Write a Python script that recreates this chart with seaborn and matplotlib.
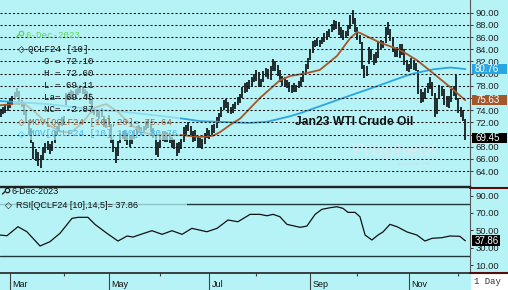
import numpy as np
import pandas as pd
import matplotlib
matplotlib.use("Agg")
import matplotlib.pyplot as plt
import seaborn as sns
from matplotlib.patches import Rectangle
from matplotlib.lines import Line2D

# ---------------- data ----------------
start_date = "2023-02-23"
end_date = "2023-12-06"
holidays = ["2023-04-07", "2023-05-29", "2023-06-19", "2023-07-04", "2023-09-04", "2023-11-23"]

highs = [74.2, 74.6, 74.9, 75.4, 75.8,
         76.3, 77.0, 77.6, 77.2, 75.6,
         75.4, 73.8, 72.4, 71.0,
         68.8, 67.6, 67.2, 66.6, 67.8, 68.6, 68.9, 68.5,
         69.0, 70.6, 71.4, 72.0, 72.8, 73.0,
         76.8, 77.0, 77.3,
         77.1, 77.4, 77.8, 78.2, 78.0, 77.5, 77.2, 76.8, 75.6, 74.4,
         74.2, 73.9, 74.4, 73.0, 72.6, 73.2,
         71.8, 69.2, 68.0, 69.0,
         70.2, 70.6, 70.8, 70.2, 69.8, 70.0, 70.8, 71.4, 71.6, 71.2,
         71.4, 72.2, 72.4, 71.8, 71.0, 69.8, 68.8, 69.8, 70.6, 70.6,
         70.4, 70.2, 69.6, 69.2, 68.6, 68.8, 69.2, 71.2, 71.6, 72.0,
         71.4, 70.6, 70.8, 69.8, 69.4, 69.2, 70.2, 71.0, 70.8, 71.6,
         71.8, 72.8, 73.6, 74.6, 75.6, 75.8, 75.4, 74.6, 75.0, 75.4,
         76.2, 76.6, 77.8, 78.4, 78.6, 79.0, 79.4, 80.0, 80.6, 80.2,
         79.2, 80.4, 81.0, 80.8, 81.2, 82.4, 82.0, 81.4, 80.6, 79.6,
         79.4, 79.0, 78.6, 78.2, 78.4, 78.2, 78.8, 79.4, 80.4, 81.6,
         82.6, 84.0, 85.4, 85.6, 85.8, 85.6, 86.0, 86.6, 87.0, 87.4,
         88.2, 88.8, 88.6, 88.4, 87.6, 87.2, 87.0, 88.0, 89.6, 90.4,
         89.2, 87.6, 86.4, 85.2, 81.4, 81.2, 84.4, 84.0, 83.2, 83.6,
         85.2, 85.6, 85.4, 87.6, 88.5, 87.4, 86.0, 84.2, 84.4, 84.8,
         84.8, 84.0, 82.2, 81.6, 82.6, 82.2, 81.8, 80.6, 77.4, 77.0,
         77.6, 78.4, 79.4, 78.6, 76.8, 76.0, 78.2, 78.0, 77.4, 76.4,
         76.4, 77.4, 78.0, 79.8, 76.0, 74.6, 74.0, 72.6]

lows = [72.9, 73.3, 73.6, 73.9, 74.3,
        74.9, 75.6, 76.2, 74.8, 74.5,
        73.2, 72.0, 70.0, 68.6,
        66.0, 65.6, 64.8, 64.5, 65.8, 66.9, 67.5, 66.8,
        67.3, 68.6, 70.0, 70.8, 71.4, 71.8,
        74.8, 75.6, 75.9,
        75.8, 76.0, 76.5, 76.8, 76.6, 76.3, 75.9, 75.0, 73.6, 73.2,
        72.8, 72.6, 72.8, 71.2, 71.0, 71.5,
        68.6, 67.2, 65.3, 66.5,
        68.6, 69.2, 69.0, 68.3, 68.0, 68.4, 69.2, 70.0, 70.2, 70.0,
        70.2, 70.8, 71.0, 70.4, 69.4, 66.6, 66.3, 68.0, 69.0, 68.8,
        68.8, 68.6, 67.9, 67.6, 66.4, 67.0, 67.6, 68.8, 70.0, 70.6,
        69.8, 68.8, 69.0, 67.8, 67.8, 67.6, 68.4, 69.4, 69.2, 69.8,
        70.2, 71.0, 72.2, 72.8, 74.0, 74.4, 73.6, 73.4, 73.6, 74.2,
        74.8, 75.2, 76.0, 76.8, 77.0, 77.4, 77.8, 78.6, 78.8, 77.8,
        77.8, 78.6, 79.4, 79.2, 79.0, 80.4, 80.4, 79.6, 78.6, 78.0,
        78.0, 77.6, 77.0, 76.8, 77.0, 77.0, 77.6, 78.0, 78.6, 80.0,
        80.8, 82.2, 83.4, 84.4, 84.6, 84.4, 84.8, 85.2, 85.6, 86.0,
        86.8, 87.2, 87.4, 86.4, 85.8, 85.6, 85.8, 86.2, 87.4, 88.2,
        86.8, 85.6, 84.8, 80.8, 79.3, 79.6, 81.6, 82.2, 81.4, 81.8,
        82.6, 84.0, 84.2, 85.0, 86.4, 85.4, 83.6, 82.7, 82.8, 82.6,
        83.0, 81.4, 80.4, 80.2, 80.8, 80.6, 80.4, 76.6, 75.2, 75.4,
        75.8, 76.8, 77.4, 76.4, 72.8, 73.4, 75.8, 76.4, 74.8, 74.6,
        74.4, 75.4, 76.4, 75.6, 73.6, 72.8, 72.2, 69.11]

# 20-day moving average (trading-day position, value)
ma20_pos = [-0.3, 5.5, 10, 15, 20, 25, 30, 35, 40, 45, 50, 55, 60, 65, 70, 77.3, 85,
            90.5, 93.5, 99, 102, 106, 110.5, 119, 123.3, 130.5, 136, 143.3, 148.9,
            151.8, 153, 161.6, 170.2, 177.4, 184.2, 191.5, 198]
ma20_val = [74.8, 75.0, 75.1, 73.6, 71.7, 70.5, 70.3, 72.0, 74.4, 75.0, 73.7, 71.8, 70.4,
            70.0, 69.9, 69.9, 69.6, 69.8, 70.4, 71.9, 72.6, 74.2, 76.0, 78.9, 79.6, 80.1,
            80.6, 82.9, 85.8, 86.8, 86.7, 85.1, 83.9, 82.2, 80.1, 77.8, 75.63]
# 100-day moving average
ma100_pos = [-0.3, 20, 42, 51, 76, 85, 106, 113.5, 123.3, 127.6, 148.9, 161.6, 170.2,
             175.7, 184.2, 191.5, 198]
ma100_val = [75.5, 75.0, 74.0, 73.8, 72.7, 72.2, 71.9, 72.1, 73.0, 73.5, 76.4, 78.1, 79.3,
             80.0, 80.7, 81.0, 80.76]
# RSI (14,5)
rsi_pos = [-0.3, 2.7, 7.4, 11.2, 16.8, 21.0, 25.3, 30.4, 33.0, 37.2, 40.2, 45.3, 50.0, 53.9,
           56.4, 60.2, 64.5, 68.8, 73.0, 77.3, 81.5, 87.9, 92.2, 96.9, 101.1, 106.3, 110.5,
           113.5, 116.1, 119.0, 122.0, 127.6, 130.5, 134.0, 136.9, 140.3, 143.3, 145.9,
           148.0, 151.0, 153.1, 155.3, 158.2, 160.8, 162.9, 165.9, 168.9, 173.2, 177.4,
           180.8, 183.8, 188.1, 191.5, 195.7, 198.0]
rsi_val = [44.5, 43.7, 54.1, 48.3, 31.9, 36.8, 46.5, 63.7, 64.9, 64.9, 56.8, 46.5, 37.6, 43.4,
           42.2, 45.7, 49.5, 45.3, 49.5, 45.3, 52.2, 48.3, 52.2, 61.8, 59.8, 68.3, 68.3,
           66.7, 68.3, 65.6, 56.8, 53.4, 54.8, 68.3, 74.1, 75.9, 77.1, 75.2, 70.6, 70.6,
           65.6, 44.5, 38.8, 44.5, 48.0, 56.8, 54.1, 48.0, 44.5, 37.6, 40.7, 41.5, 43.4,
           43.0, 37.86]

price_ticks = [90, 88, 86, 84, 82, 80, 78, 76, 74, 72, 70, 68, 66, 64]
rsi_ticks = [90, 70, 50, 30, 10]
rsi_levels = [80, 20]
major_months = [3, 5, 7, 9, 11]
minor_months = [4, 6, 8, 10, 12]
month_names = {3: "Mar", 5: "May", 7: "Jul", 9: "Sep", 11: "Nov"}

legend_date = "6-Dec-2023"
symbol = "QCLF24 [10]"
ohlc_labels = ["O ", "H ", "L ", "La", "NC"]
ohlc_values = ["72.10", "72.60", "69.11", "69.45", "-2.87"]
last_price = 69.45
ma20_last, ma20_legend = 75.63, 75.64
ma100_last = 80.76
rsi_last = 37.86
title = "Jan23 WTI Crude Oil"

# ---------------- style ----------------
sns.set_theme(style="white")
plt.rcParams["font.family"] = ["Liberation Sans", "DejaVu Sans"]
BG = "#b6f3f7"
BROWN = "#a3582b"
BLUE = "#2aa6e0"
mono = ["Liberation Mono", "DejaVu Sans Mono"]
sans = ["Liberation Sans", "DejaVu Sans"]

W, H = 508, 290
def fx(x):
    return x / W
def fy(y):
    return 1 - y / H

days = pd.bdate_range(start_date, end_date, freq="C", holidays=holidays)
idx = np.arange(len(days))

fig = plt.figure(figsize=(W / 100, H / 100), dpi=100, facecolor=BG)
ax = fig.add_axes([0, fy(186), 470 / W, 186 / H], facecolor=BG)
rax = fig.add_axes([0, fy(273), 470 / W, 86 / H], facecolor=BG)

XL = (-0.26, 200.0)

# ---------------- main price panel ----------------
ax.vlines(idx, lows, highs, color="black", linewidth=1.15, zorder=1)
sns.lineplot(x=ma100_pos, y=ma100_val, ax=ax, color=BLUE, linewidth=1.3,
             estimator=None, sort=False, zorder=1.6)
sns.lineplot(x=ma20_pos, y=ma20_val, ax=ax, color=BROWN, linewidth=1.3,
             estimator=None, sort=False, zorder=1.7)
for t in price_ticks:
    ax.axhline(t, color="#111111", linewidth=0.75, linestyle=(0, (2, 2)), zorder=2.5)

# translucent legend box
ax.add_patch(Rectangle((fx(13), fy(140)), (180 - 13) / W, (140 - 28) / H,
                       transform=fig.transFigure, facecolor=BG, alpha=0.7,
                       edgecolor="none", zorder=2.2))

box_values = [ma100_last, ma20_last, last_price]
ax.set_xlim(*XL)
ax.set_ylim(61.55, 92.09)
ax.set_yticks(price_ticks)
ax.set_yticklabels(["" if min(abs(t - v) for v in box_values) < 0.7 else f"{t:.2f}"
                    for t in price_ticks])
ax.yaxis.tick_right()
ax.tick_params(axis="y", direction="out", length=2.5, width=0.7, pad=1.5,
               labelsize=6.8, colors="#333333", labelcolor="#222222")
ax.set_xticks([])
for s in ["top", "left"]:
    ax.spines[s].set_visible(False)
ax.spines["right"].set_color("#555555")
ax.spines["right"].set_linewidth(0.8)
ax.spines["bottom"].set_color("#222222")
ax.spines["bottom"].set_linewidth(1.0)
ax.set_xlabel("")
ax.set_ylabel("")

# watermark + title
ax.text(fx(352), fy(151), "ProphetX", transform=fig.transFigure, fontsize=14,
        fontweight="bold", color="#d3ebf0", va="center", ha="left", zorder=0.5)
ax.text(fx(398), fy(163.5), "powered by DTN", transform=fig.transFigure, fontsize=3.2,
        color="#c2dde2", va="center", ha="left", zorder=0.5)
fig.text(fx(295), fy(122), title, fontsize=8.7, fontweight="bold", color="#111111",
         va="center", ha="left", family=sans)

# value boxes on price axis
def value_box(axis, val, txt, color, hdata, x1=507):
    tr = axis.get_yaxis_transform()
    axis.add_patch(Rectangle((1.0 + 1.5 / 470, val - hdata / 2), (x1 - 471.5) / 470, hdata,
                             transform=tr, facecolor=color, edgecolor="none",
                             clip_on=False, zorder=10))
    axis.text(1.0 + 5 / 470, val, txt, transform=tr, color="white", fontsize=7,
              va="center", ha="left", clip_on=False, zorder=11, family=sans)

value_box(ax, ma100_last, f"{ma100_last:.2f}", BLUE, 10 / 6.09)
value_box(ax, ma20_last, f"{ma20_last:.2f}", BROWN, 10 / 6.09)
value_box(ax, last_price, f"{last_price:.2f}", "black", 10 / 6.09)

# main legend text
def ftext(x, y, s, **kw):
    fig.text(fx(x), fy(y), s, va="center", ha="left", **kw)

def magnifier(x, y, color):
    fig.add_artist(Line2D([fx(x + 1.5)], [fy(y - 1.5)], marker="o", markersize=3.2,
                          markerfacecolor="none", markeredgecolor=color,
                          markeredgewidth=0.9, linestyle="none"))
    fig.add_artist(Line2D([fx(x - 0.3), fx(x - 2.5)], [fy(y + 0.3), fy(y + 2.5)],
                          color=color, linewidth=1.0))

magnifier(19, 34.5, "#5fd35f")
ftext(25, 35, legend_date, color="#5fd35f", family=mono, fontsize=6.6)
ftext(17.5, 49.5, "\u25c7", color="black", family=["DejaVu Sans"], fontsize=6.5)
ftext(28.5, 49.3, symbol, color="#111111", family=mono, fontsize=6.6)
for k, (lab, v) in enumerate(zip(ohlc_labels, ohlc_values)):
    ftext(44, 61 + 12.1 * k, f"{lab}= {v}", color="#111111", family=mono, fontsize=6.6)
ftext(18, 122.3, "\u25c7", color=BROWN, family=["DejaVu Sans"], fontsize=6.5)
ftext(29, 122.2, f"MOV[QCLF24 [10],20]= {ma20_legend:.2f}", color="#a8683e",
      family=mono, fontsize=6.6)
ftext(18, 134.2, "\u25c7", color="#40b4ea", family=["DejaVu Sans"], fontsize=6.5)
ftext(29, 134.0, f"MOV[QCLF24 [10],100]= {ma100_last:.2f}", color="#40b4ea",
      family=mono, fontsize=6.6)

# ---------------- RSI panel ----------------
for lv in rsi_levels:
    rax.axhline(lv, color="#1e3a3a", linewidth=1.0, zorder=1)
rax.add_patch(Rectangle((0, fy(211)), 187 / W, (211 - 187.5) / H,
                        transform=fig.transFigure, facecolor=BG, alpha=0.75,
                        edgecolor="none", zorder=2))
sns.lineplot(x=rsi_pos, y=rsi_val, ax=rax, color="#111111", linewidth=0.9,
             estimator=None, sort=False, zorder=3)
rax.set_xlim(*XL)
rax.set_ylim(0.8, 99.8)
rax.set_yticks(rsi_ticks)
rax.set_yticklabels([f"{t:.2f}" for t in rsi_ticks])
rax.yaxis.tick_right()
rax.tick_params(axis="y", direction="out", length=2.5, width=0.7, pad=1.5,
                labelsize=6.8, colors="#333333", labelcolor="#222222")
rax.spines["left"].set_visible(False)
rax.spines["top"].set_color("#222222")
rax.spines["top"].set_linewidth(1.0)
rax.spines["right"].set_color("#555555")
rax.spines["right"].set_linewidth(0.8)
rax.spines["bottom"].set_color("#222222")
rax.spines["bottom"].set_linewidth(1.2)
rax.set_xlabel("")
rax.set_ylabel("")
value_box(rax, rsi_last, f"{rsi_last:.2f}", "black", 11 / 0.869, x1=500)

magnifier(5, 191.5, "#222222")
ftext(12, 192, legend_date, color="#111111", family=sans, fontsize=6.5)
ftext(4.5, 205.3, "\u25c7", color="#111111", family=["DejaVu Sans"], fontsize=6.5)
ftext(15.5, 205, f"RSI[QCLF24 [10],14,5]= {rsi_last:.2f}", color="#111111",
      family=sans, fontsize=6.5)

# month ticks
first_idx = {}
for i, d in enumerate(days):
    if d.month not in first_idx:
        first_idx[d.month] = i
maj = [first_idx[m] for m in major_months]
mnr = [first_idx[m] for m in minor_months]
rax.set_xticks(maj)
rax.set_xticklabels([""] * len(maj))
rax.set_xticks(mnr, minor=True)
rax.tick_params(axis="x", which="major", direction="out", length=12.3, width=0.8,
                color="#444444", bottom=True)
rax.tick_params(axis="x", which="minor", direction="out", length=2.2, width=0.8,
                color="#444444", bottom=True)
for m, p in zip(major_months, maj):
    rax.text(p + 1.1, -0.13, month_names[m], transform=rax.get_xaxis_transform(),
             fontsize=6.5, color="#111111", ha="left", va="center", family=sans)

# right-side frame lines and "1 Day" box
for yy in (187.5, 272.8):
    fig.add_artist(Line2D([fx(470), fx(508)], [fy(yy), fy(yy)], color="#5a0c0c",
                          linewidth=1.5))
fig.add_artist(Rectangle((fx(470.5), fy(290)), 37.5 / W, 16.5 / H,
                         transform=fig.transFigure, facecolor="white", edgecolor="none"))
ftext(474, 282, "1 Day", color="#333333", family=mono, fontsize=6.5)

fig.savefig("out.png", dpi=100, facecolor=BG)
